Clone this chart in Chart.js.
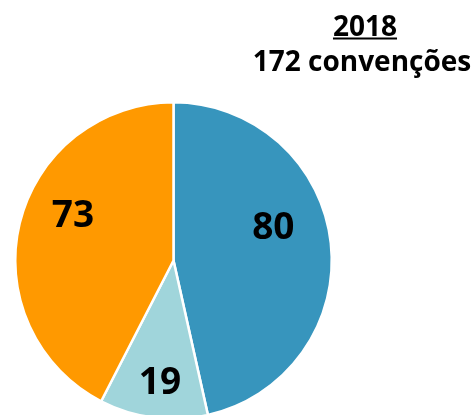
<!DOCTYPE html>
<html>
<head>
<meta charset="utf-8">
<script src="https://cdn.jsdelivr.net/npm/chart.js@4"></script>
<style>
  html, body { margin: 0; padding: 0; background: #fff; overflow: hidden; }
  #wrap { width: 476px; height: 415px; overflow: hidden; position: relative; }
  canvas { display: block; }
</style>
</head>
<body>
<div id="wrap"><canvas id="c" width="476" height="432"></canvas></div>
<script>
// ---- data ----
const categories = ["Série A", "Série B", "Série C"];
const values = [80, 19, 73];
const sliceColors = ["#3795BD", "#A0D5DB", "#FF9900"];
const titleYear = "2018";
const titleTotal = "172 convenções";

// label placement inside each slice: fraction of slice angle, fraction of radius
const labelPlacement = [
  { t: 0.424, f: 0.667 },
  { t: 0.477, f: 0.768 },
  { t: 0.571, f: 0.698 }
];

const FONT = "'Open Sans', Lato, 'DejaVu Sans', sans-serif";

const labelPlugin = {
  id: 'sliceLabels',
  afterDatasetsDraw(chart) {
    const ctx = chart.ctx;
    const meta = chart.getDatasetMeta(0);
    ctx.save();
    ctx.fillStyle = '#000';
    ctx.font = "bold 37px " + FONT;
    ctx.textAlign = 'center';
    ctx.textBaseline = 'middle';
    meta.data.forEach((arc, i) => {
      const p = arc.getProps(['x', 'y', 'startAngle', 'endAngle', 'outerRadius'], true);
      const pl = labelPlacement[i];
      const a = p.startAngle + (p.endAngle - p.startAngle) * pl.t;
      const r = p.outerRadius * pl.f;
      ctx.fillText(String(chart.data.datasets[0].data[i]), p.x + Math.cos(a) * r, p.y + Math.sin(a) * r + 2);
    });
    ctx.restore();
  }
};

const titlePlugin = {
  id: 'titleText',
  afterDraw(chart) {
    const ctx = chart.ctx;
    ctx.save();
    ctx.fillStyle = '#000';
    ctx.font = "bold 28px " + FONT;
    ctx.textAlign = 'center';
    ctx.textBaseline = 'alphabetic';
    ctx.fillText(titleYear, 365, 35.5);
    const w = ctx.measureText(titleYear).width;
    ctx.fillRect(365 - w / 2, 37.5, w, 2);
    ctx.fillText(titleTotal, 362, 70.5);
    ctx.restore();
  }
};

new Chart(document.getElementById('c'), {
  type: 'pie',
  data: {
    labels: categories,
    datasets: [{
      data: values,
      backgroundColor: sliceColors,
      borderColor: '#ffffff',
      borderWidth: 2.5
    }]
  },
  options: {
    responsive: false,
    animation: false,
    devicePixelRatio: 1,
    layout: { padding: { left: 14, right: 143, top: 101, bottom: 12 } },
    plugins: {
      legend: { display: false },
      tooltip: { enabled: false },
      title: { display: false }
    }
  },
  plugins: [labelPlugin, titlePlugin]
});
</script>
</body>
</html>
